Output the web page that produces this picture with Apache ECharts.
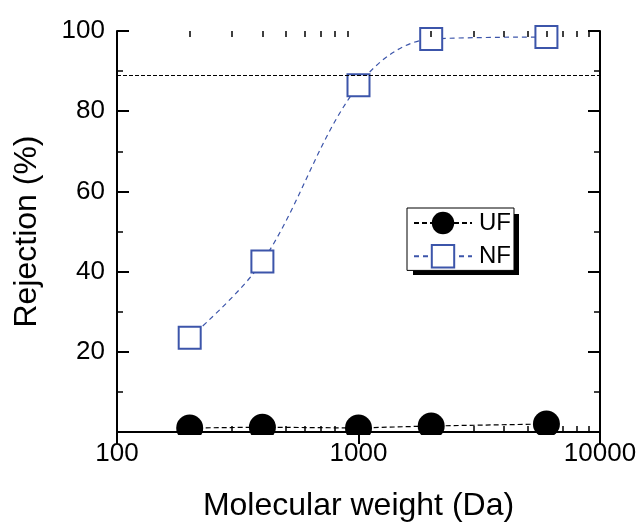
<!DOCTYPE html>
<html>
<head>
<meta charset="utf-8">
<script src="https://cdn.jsdelivr.net/npm/echarts@6/dist/echarts.min.js"></script>
<style>
  html, body { margin: 0; padding: 0; background: #fff; }
  #chart { width: 641px; height: 527px; }
</style>
</head>
<body>
<div id="chart"></div>
<script>
// data
const molWeight = [200, 400, 1000, 2000, 6000];
const ufRejection = [1.0, 1.2, 1.0, 1.5, 2.0];
const nfRejection = [23.5, 42.5, 86.5, 98, 98.5];
const refLevel = 89;
const minorX = [200, 300, 400, 500, 600, 700, 800, 900, 2000, 3000, 4000, 5000, 6000, 7000, 8000, 9000];

const font = 'Liberation Sans, Arial, sans-serif';
const nfColor = '#3c55aa';

const chart = echarts.init(document.getElementById('chart'));

const xCommon = {
  type: 'log',
  logBase: 10,
  min: 100,
  max: 10000,
  z: 10,
  axisLine: { show: true, lineStyle: { color: '#000', width: 2 } },
  axisTick: { show: true, inside: true, length: 12, lineStyle: { color: '#000', width: 2 } },
  minorTick: { show: false },
  splitLine: { show: false }
};

const xMinor = {
  axisLine: { show: false },
  axisLabel: { show: false },
  axisTick: { show: true, inside: true, length: 6, customValues: minorX, lineStyle: { color: '#000', width: 1.5 } }
};

const yCommon = {
  type: 'value',
  min: 0,
  max: 100,
  interval: 20,
  z: 10,
  axisLine: { show: true, lineStyle: { color: '#000', width: 2 } },
  axisTick: { show: true, inside: true, length: 12, lineStyle: { color: '#000', width: 2 } },
  minorTick: { show: true, splitNumber: 2, length: 6, lineStyle: { color: '#000', width: 1.5 } },
  splitLine: { show: false }
};

chart.setOption({
  animation: false,
  backgroundColor: '#fff',
  grid: { left: 117, right: 41, top: 31, bottom: 93 },
  graphic: [
    // drop shadow behind the legend box
    { type: 'rect', left: 413, top: 214, z: 1, shape: { width: 106, height: 61 }, style: { fill: '#000' } },
    // the plot frame cuts the markers that sit on the bottom axis
    { type: 'rect', left: 100, top: 435, z: 5, shape: { width: 520, height: 10 }, style: { fill: '#fff' } }
  ],
  legend: {
    data: ['UF', 'NF'],
    orient: 'vertical',
    left: 407,
    top: 208,
    z: 60,
    itemWidth: 58,
    itemHeight: 28,
    itemGap: 9,
    padding: [3, 3, 2, 6],
    backgroundColor: '#fff',
    borderColor: '#000',
    borderWidth: 1,
    textStyle: { fontFamily: font, fontSize: 24, color: '#000', padding: [0, 0, 0, 2] }
  },
  xAxis: [
    Object.assign({}, xCommon, {
      position: 'bottom',
      name: 'Molecular weight (Da)',
      nameLocation: 'middle',
      nameGap: 58,
      nameTextStyle: { fontFamily: font, fontSize: 32, color: '#000' },
      axisLabel: {
        fontFamily: font, fontSize: 26, color: '#000', margin: 9,
        formatter: function (v) { return String(v); }
      }
    }),
    Object.assign({}, xCommon, { position: 'top', axisLabel: { show: false } }),
    Object.assign({}, xCommon, xMinor, { position: 'bottom' }),
    Object.assign({}, xCommon, xMinor, { position: 'top' })
  ],
  yAxis: [
    Object.assign({}, yCommon, {
      position: 'left',
      name: 'Rejection (%)',
      nameLocation: 'middle',
      nameGap: 74,
      nameTextStyle: { fontFamily: font, fontSize: 32, color: '#000' },
      axisLabel: {
        fontFamily: font, fontSize: 26, color: '#000', margin: 12,
        formatter: function (v) { return v === 0 ? '' : v; }
      }
    }),
    Object.assign({}, yCommon, { position: 'right', axisLabel: { show: false } })
  ],
  series: [
    {
      name: 'UF',
      type: 'line',
      data: molWeight.map((m, i) => [m, ufRejection[i]]),
      symbol: 'circle',
      symbolSize: 27,
      itemStyle: { color: '#000' },
      lineStyle: { color: '#000', width: 1.2, type: [5, 3] },
      z: 3,
      markLine: {
        silent: true,
        symbol: 'none',
        label: { show: false },
        lineStyle: { color: '#000', width: 1.2, type: [4, 2] },
        data: [{ yAxis: refLevel }]
      }
    },
    {
      name: 'NF',
      type: 'line',
      data: molWeight.map((m, i) => [m, nfRejection[i]]),
      smooth: 0.35,
      symbol: 'rect',
      symbolSize: 22,
      itemStyle: { color: '#fff', borderColor: nfColor, borderWidth: 2 },
      lineStyle: { color: nfColor, width: 1.2, type: [5, 4] },
      z: 4
    }
  ]
});
</script>
</body>
</html>
